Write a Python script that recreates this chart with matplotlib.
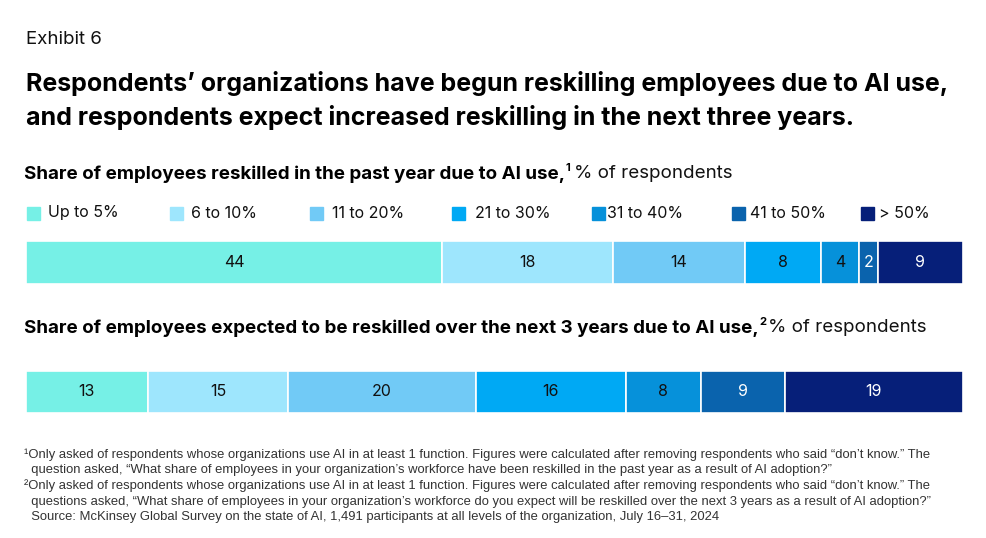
import matplotlib
matplotlib.use("Agg")
import matplotlib.pyplot as plt
from matplotlib.patches import Rectangle

W, H = 986, 538

categories = ["Up to 5%", "6 to 10%", "11 to 20%", "21 to 30%", "31 to 40%", "41 to 50%", "> 50%"]
colors = ["#76F0E6", "#9EE6FD", "#71CAF6", "#00A9F4", "#0691DA", "#0A63AD", "#061F79"]
text_colors = ["#111111"] * 5 + ["white", "white"]

past_year = [44, 18, 14, 8, 4, 2, 9]
next_3_years = [13, 15, 20, 16, 8, 9, 19]

title = ("Respondents\u2019 organizations have begun reskilling employees due to AI use,\n"
         "and respondents expect increased reskilling in the next three years.")
sub1_bold = "Share of employees reskilled in the past year due to AI use,"
sub2_bold = "Share of employees expected to be reskilled over the next 3 years due to AI use,"
footnotes = [
    "\u00b9Only asked of respondents whose organizations use AI in at least 1 function. Figures were calculated after removing respondents who said \u201cdon\u2019t know.\u201d The",
    "  question asked, \u201cWhat share of employees in your organization\u2019s workforce have been reskilled in the past year as a result of AI adoption?\u201d",
    "\u00b2Only asked of respondents whose organizations use AI in at least 1 function. Figures were calculated after removing respondents who said \u201cdon\u2019t know.\u201d The",
    "  questions asked, \u201cWhat share of employees in your organization\u2019s workforce do you expect will be reskilled over the next 3 years as a result of AI adoption?\u201d",
    "  Source: McKinsey Global Survey on the state of AI, 1,491 participants at all levels of the organization, July 16\u201331, 2024",
]

FONT = ["Inter", "DejaVu Sans"]
NARROW = ["Liberation Sans Narrow", "Liberation Sans", "DejaVu Sans"]

fig = plt.figure(figsize=(W / 100, H / 100), dpi=100)
fig.patch.set_facecolor("white")


def fx(px):
    return px / W


def fy(py):
    return 1 - py / H


def txt(x, y, s, **kw):
    kw.setdefault("family", FONT)
    kw.setdefault("va", "center")
    return fig.text(fx(x), fy(y), s, **kw)


renderer = fig.canvas.get_renderer()


def subtitle(y, bold, sup):
    t = txt(24, y, bold, fontsize=13.5, weight="bold", color="black")
    bb = t.get_window_extent(renderer=renderer)
    x_end = bb.x1
    txt(x_end + 1, y - 6, sup, fontsize=8, weight="bold", color="black")
    txt(x_end + 9, y, "% of respondents", fontsize=13.5, color="#111111")


txt(26, 40, "Exhibit 6", fontsize=13.5, color="#111111")
txt(26, 101, title, fontsize=18, weight="bold", color="black", linespacing=1.45)
subtitle(174, sub1_bold, "1")

# legend
leg_sq_x = [27, 170, 310, 452, 592, 732, 861]
leg_tx_x = [48, 191, 332, 475, 607, 750, 879]
for i, lab in enumerate(categories):
    fig.patches.append(Rectangle((fx(leg_sq_x[i]), fy(220)), fx(13), 13 / H,
                                 transform=fig.transFigure, color=colors[i]))
    txt(leg_tx_x[i], 213, lab, fontsize=11.5, color="#111111")


def bar(top, bottom, values):
    ax = fig.add_axes([fx(26), fy(bottom), fx(963 - 26), (bottom - top) / H])
    left = 0
    for i, v in enumerate(values):
        ax.barh(0, v, left=left, height=1, color=colors[i], edgecolor="white", linewidth=1.2)
        ax.text(left + v / 2, 0, str(v), ha="center", va="center", fontsize=11.5,
                color=text_colors[i], family=FONT)
        left += v
    ax.set_xlim(0, sum(values))
    ax.set_ylim(-0.5, 0.5)
    ax.axis("off")


bar(241, 284, past_year)
subtitle(328, sub2_bold, "2")
bar(371, 413, next_3_years)

for i, line in enumerate(footnotes):
    txt(24, 455 + i * 15.5, line, fontsize=9.4, color="#333333", family=NARROW)

fig.savefig("out.png", dpi=100)
